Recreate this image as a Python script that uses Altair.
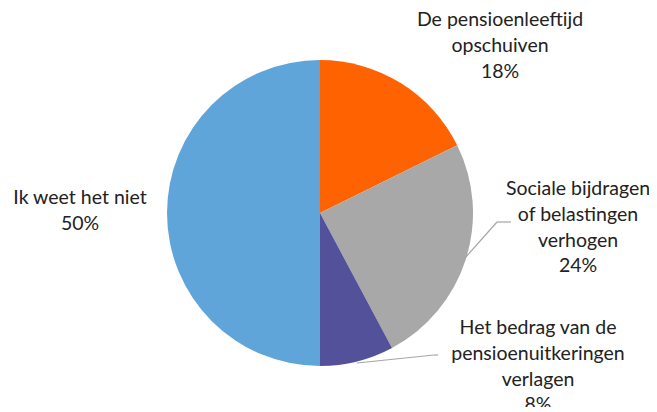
import altair as alt
import pandas as pd

categories = ["De pensioenleeftijd opschuiven", "Sociale bijdragen of belastingen verhogen",
              "Het bedrag van de pensioenuitkeringen verlagen", "Ik weet het niet"]
values = [17.7, 24.5, 7.8, 50.0]
pct_labels = ["18%", "24%", "8%", "50%"]
label_lines = [["De pensioenleeftijd", "opschuiven"],
               ["Sociale bijdragen", "of belastingen", "verhogen"],
               ["Het bedrag van de", "pensioenuitkeringen", "verlagen"],
               ["Ik weet het niet"]]
colors = ["#FF6200", "#A8A8A8", "#525199", "#60A5DA"]

# label anchor layout (pixels within plot area)
label_x = [492, 570, 530, 72]
label_y = [3, 172, 311, 181]
leaders = [None,
           [(457, 250), (489, 214), (503, 214)],
           [(349, 355), (426, 347), (430, 347)],
           None]

df = pd.DataFrame({"cat": categories, "val": values, "order": range(4)})
CX, CY, R = 312, 205, 153

pie = alt.Chart(df).mark_arc(radius=R, strokeWidth=0).encode(
    theta=alt.Theta("val:Q", stack=True),
    order=alt.Order("order:Q"),
    color=alt.Color("cat:N", scale=alt.Scale(domain=categories, range=colors), legend=None),
    x=alt.value(CX), y=alt.value(CY),
)

tdf = pd.DataFrame({
    "txt": [lines + [p] for lines, p in zip(label_lines, pct_labels)],
    "x": label_x, "y": label_y,
})
texts = alt.Chart(tdf).mark_text(
    font="Lato", fontSize=19.5, color="#222222", align="center", baseline="top", lineHeight=25.8
).encode(x=alt.X("x:Q", scale=None), y=alt.Y("y:Q", scale=None), text="txt")

rows = []
for i, pts in enumerate(leaders):
    if pts:
        for j in range(len(pts) - 1):
            rows.append({"x": pts[j][0], "y": pts[j][1], "x2": pts[j + 1][0], "y2": pts[j + 1][1]})
ldf = pd.DataFrame(rows)
lines = alt.Chart(ldf).mark_rule(color="#A6A6A6", strokeWidth=1.2).encode(
    x=alt.X("x:Q", scale=None), y=alt.Y("y:Q", scale=None),
    x2="x2:Q", y2="y2:Q",
)

chart = alt.layer(pie, lines, texts).properties(
    width=641, height=399, padding=0, autosize="none"
).configure_view(stroke=None)

chart.save("out.html", embed_options={"renderer": "svg", "actions": False})
